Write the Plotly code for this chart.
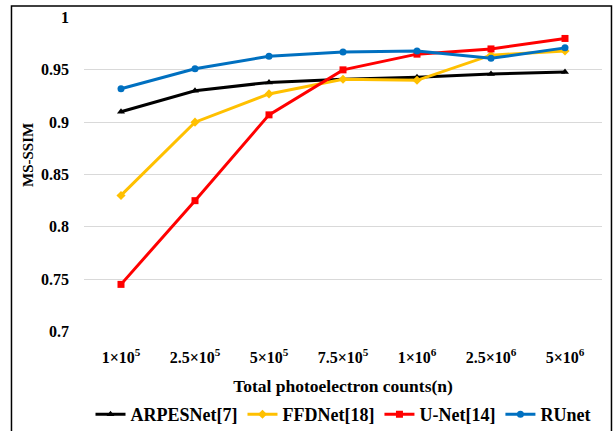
import plotly.graph_objects as go

categories = ["1×10<sup>5</sup>", "2.5×10<sup>5</sup>", "5×10<sup>5</sup>", "7.5×10<sup>5</sup>",
              "1×10<sup>6</sup>", "2.5×10<sup>6</sup>", "5×10<sup>6</sup>"]
arpesnet = [0.910, 0.930, 0.938, 0.941, 0.943, 0.946, 0.948]
ffdnet = [0.830, 0.900, 0.927, 0.941, 0.940, 0.964, 0.968]
unet = [0.745, 0.825, 0.907, 0.950, 0.965, 0.970, 0.980]
runet = [0.932, 0.951, 0.963, 0.967, 0.968, 0.961, 0.971]

series = [
    ("ARPESNet[7]", arpesnet, "#000000", "triangle-up"),
    ("FFDNet[18]", ffdnet, "#FFC000", "diamond"),
    ("U-Net[14]", unet, "#FF0000", "square"),
    ("RUnet", runet, "#0070C0", "circle"),
]

font_family = "Liberation Serif"
fig = go.Figure()
for name, vals, color, sym in series:
    fig.add_trace(go.Scatter(
        x=list(range(len(categories))), y=vals, name=name, mode="lines+markers",
        line=dict(color=color, width=3),
        marker=dict(symbol=sym, size=7, color=color),
    ))

fig.update_layout(
    width=616, height=431,
    margin=dict(l=84, r=14, t=17, b=99, autoexpand=False),
    paper_bgcolor="white", plot_bgcolor="white",
    font=dict(family=font_family, color="black"),
    showlegend=True,
    legend=dict(orientation="h", x=0.5, xanchor="center", y=-0.262, yanchor="middle",
                font=dict(size=18, family=font_family, color="black", weight="bold"),
                itemwidth=30, tracegroupgap=0),
    xaxis=dict(
        tickmode="array", tickvals=list(range(len(categories))), ticktext=categories,
        range=[-0.5, 6.5], showgrid=False, zeroline=False, automargin=False,
        showline=False,
        tickfont=dict(size=16, family=font_family, color="black", weight="bold"),
        ticklabelstandoff=14,
        title=dict(text="<b>Total photoelectron counts(n)</b>",
                   font=dict(size=17.5, family=font_family, color="black"), standoff=14),
    ),
    yaxis=dict(
        range=[0.6995, 1.0005], tickvals=[0.7, 0.75, 0.8, 0.85, 0.9, 0.95, 1.0],
        ticktext=["0.7", "0.75", "0.8", "0.85", "0.9", "0.95", "1"],
        showgrid=True, gridcolor="#D9D9D9", gridwidth=1, zeroline=False, showline=False,
        automargin=False,
        tickfont=dict(size=16, family=font_family, color="black", weight="bold"),
        ticklabelstandoff=14,
    ),
    annotations=[dict(
        text="<b>MS-SSIM</b>", x=-0.108, y=0.562, xref="paper", yref="paper",
        xanchor="center", yanchor="middle",
        textangle=-90, showarrow=False,
        font=dict(size=15, family=font_family, color="black"),
    )],
    shapes=[dict(
        type="rect", xref="paper", yref="paper",
        x0=-0.14, x1=1.0183, y0=-0.4, y1=1.0349,
        line=dict(color="black", width=1.5), fillcolor="rgba(0,0,0,0)", layer="below",
    )],
)

fig.write_html("out.html")
